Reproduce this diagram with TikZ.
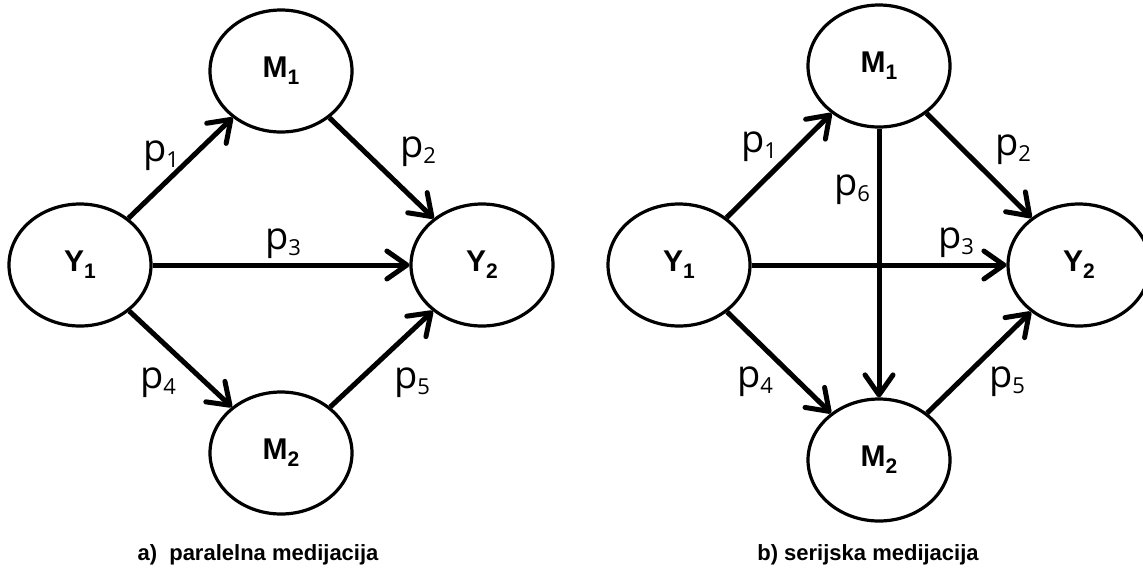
\documentclass[tikz,border=0pt]{standalone}
\usepackage{fontspec}
\setmainfont{Liberation Sans}
\newfontfamily\coeffam{Open Sans}
\usetikzlibrary{arrows.meta,shapes.geometric}
\newcommand{\vsub}[2]{#1\raisebox{-3.5pt}{\fontsize{10.5}{12}\selectfont #2}}
\newcommand{\pcoef}[1]{p\raisebox{-2.8pt}{\fontsize{11}{13}\selectfont #1}}

\begin{document}
\begin{tikzpicture}[x=0.5pt, y=-0.5pt,
  var/.style={ellipse, draw, line width=1.6pt, minimum width=71pt, minimum height=61pt,
    inner sep=0pt, font=\fontsize{15}{17}\selectfont\bfseries},
  link/.style={-{Straight Barb[length=10pt,width=14pt,round]}, line width=2.5pt},
  coef/.style={inner sep=0pt, font=\coeffam\fontsize{19}{22}\selectfont},
  paneltitle/.style={inner sep=0pt, font=\fontsize{11}{13}\selectfont\bfseries}]
  \useasboundingbox (0,0) rectangle (1143,579);

  % a) parallel mediation
  \node[var] (y1a) at (80,265) {\vsub{Y}{1}};
  \node[var] (m1a) at (281,71) {\vsub{M}{1}};
  \node[var] (m2a) at (281,453) {\vsub{M}{2}};
  \node[var] (y2a) at (482,265) {\vsub{Y}{2}};

  \draw[link] (y1a) -- (m1a);
  \draw[link] (m1a) -- (y2a);
  \draw[link] (y1a) -- (y2a);
  \draw[link] (y1a) -- (m2a);
  \draw[link] (m2a) -- (y2a);

  \node[coef] (p1a) at (161,156) {\pcoef{1}};
  \node[coef] (p2a) at (418,152) {\pcoef{2}};
  \node[coef] (p3a) at (283,244) {\pcoef{3}};
  \node[coef] (p4a) at (158,383) {\pcoef{4}};
  \node[coef] (p5a) at (412,383) {\pcoef{5}};

  \node[paneltitle] (tita) at (258,555) {a)\ \ paralelna medijacija};

  % b) serial mediation
  \node[var] (y1b) at (679,265) {\vsub{Y}{1}};
  \node[var] (m1b) at (879,66) {\vsub{M}{1}};
  \node[var] (m2b) at (879,460) {\vsub{M}{2}};
  \node[var] (y2b) at (1079,265) {\vsub{Y}{2}};

  \draw[link] (y1b) -- (m1b);
  \draw[link] (m1b) -- (y2b);
  \draw[link] (y1b) -- (y2b);
  \draw[link] (y1b) -- (m2b);
  \draw[link] (m2b) -- (y2b);
  \draw[link] (m1b) -- (m2b);

  \node[coef] (p1b) at (759,147) {\pcoef{1}};
  \node[coef] (p2b) at (1013,150) {\pcoef{2}};
  \node[coef] (p3b) at (956,243) {\pcoef{3}};
  \node[coef] (p4b) at (755,382) {\pcoef{4}};
  \node[coef] (p5b) at (1007,382) {\pcoef{5}};
  \node[coef] (p6b) at (852,190) {\pcoef{6}};

  \node[paneltitle] (titb) at (868,555) {b) serijska medijacija};
\end{tikzpicture}
\end{document}
